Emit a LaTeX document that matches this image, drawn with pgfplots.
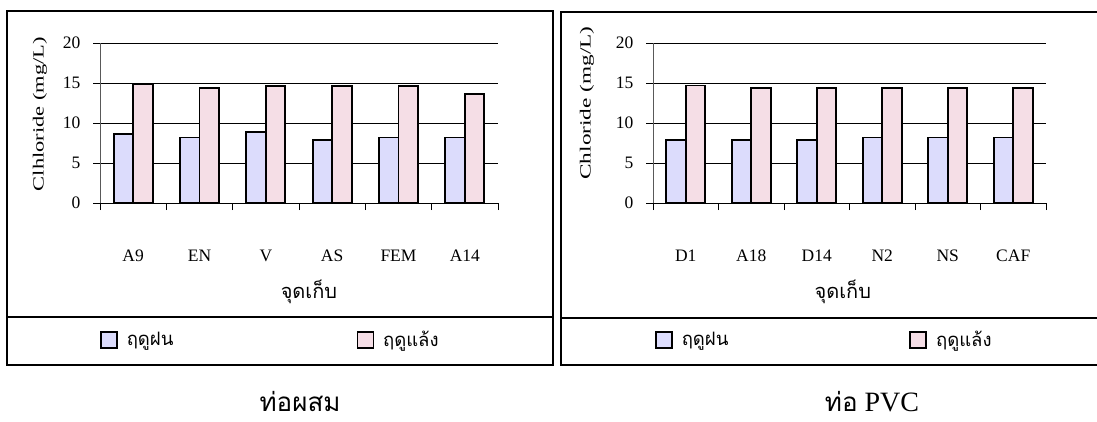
\documentclass[border=0pt]{standalone}
\usepackage{fontspec}
\setmainfont{Liberation Serif}
\newfontfamily\thaifont[Script=Thai]{Loma}
\usepackage{pgfplots}
\pgfplotsset{compat=1.18}
\definecolor{rainy}{RGB}{220,220,252}
\definecolor{dry}{RGB}{245,222,230}
\pgfplotsset{
  chl/.style={
    scale only axis, height=160pt,
    xmin=-0.5, xmax=5.5, ymin=0, ymax=20,
    axis x line=bottom, axis y line=left,
    axis line style={-},
    x axis line style={black, line width=0.9pt},
    y axis line style={black!65, line width=0.9pt},
    ytick={0,5,10,15,20},
    ymajorgrids, grid style={black, line width=0.8pt},
    xtick={-0.5,0.5,1.5,2.5,3.5,4.5,5.5}, xticklabels={},
    tick align=outside, major tick length=7pt,
    tick style={black, line width=0.8pt},
    extra x ticks={0,1,2,3,4,5},
    extra x tick style={major tick length=0pt, xticklabel style={anchor=center, yshift=-53pt}},
    tick label style={font=\fontsize{17.5}{20}\selectfont},
    yticklabel style={xshift=-9pt},
    /pgf/number format/assume math mode=true,
    clip=false,
    legend columns=2,
    legend cell align=left,
  },
  rain/.style={ybar, bar width=19.5pt, bar shift=-9.75pt, fill=rainy, draw=black, line width=1.7pt,
    legend image code/.code={\draw[fill=rainy,draw=black,line width=1.6pt] (0pt,-8pt) rectangle (16pt,8pt);}},
  dryb/.style={ybar, bar width=19.5pt, bar shift=9.75pt, fill=dry, draw=black, line width=1.7pt,
    legend image code/.code={\draw[fill=dry,draw=black,line width=1.6pt] (0pt,-8pt) rectangle (16pt,8pt);}},
}
\begin{document}
\begin{tikzpicture}[x=1pt,y=1pt]
\useasboundingbox (0,0) rectangle (1097,421);
\begin{scope}
\clip (0,0) rectangle (1097,421);
\draw[line width=1.3pt] (7,56) rectangle (553,410);
\draw[line width=1.3pt] (7,104) -- (553,104);
\draw[line width=1.3pt] (561,56) rectangle (1110,409);
\draw[line width=1.3pt] (561,103) -- (1110,103);
\end{scope}

\begin{axis}[chl, width=398pt, at={(100pt,218pt)}, anchor=south west,
  extra x tick labels={A9,EN,V,AS,FEM,A14},
  ylabel={Clhloride (mg/L)},
  ylabel style={at={(axis description cs:-0.1508,0.556)}, anchor=center, rotate=0, xscale=1.45, font=\fontsize{15.5}{18}\selectfont},
  xlabel={\thaifont จุดเก็บ},
  xlabel style={at={(axis description cs:0.525,-0.556)}, anchor=center, font=\fontsize{20}{22}\selectfont},
  legend style={at={(axis description cs:0.0,-0.856)}, anchor=west, draw=none, fill=none, inner sep=0pt,
    font=\thaifont\fontsize{18.5}{20}\selectfont,
    /tikz/every odd column/.append style={column sep=7pt},
    /tikz/every even column/.append style={column sep=181pt}},
]
\addplot[rain] coordinates {(0,8.6) (1,8.2) (2,8.9) (3,7.9) (4,8.2) (5,8.2)};
\addplot[dryb] coordinates {(0,14.8) (1,14.4) (2,14.6) (3,14.6) (4,14.6) (5,13.6)};
\legend{ฤดูฝน,ฤดูแล้ง}
\end{axis}

\begin{axis}[chl, width=393pt, at={(653pt,218pt)}, anchor=south west,
  extra x tick labels={D1,A18,D14,N2,NS,CAF},
  ylabel={Chloride (mg/L)},
  ylabel style={at={(axis description cs:-0.168,0.625)}, anchor=center, rotate=0, xscale=1.5, font=\fontsize{15.5}{18}\selectfont},
  xlabel={\thaifont จุดเก็บ},
  xlabel style={at={(axis description cs:0.483,-0.556)}, anchor=center, font=\fontsize{20}{22}\selectfont},
  legend style={at={(axis description cs:0.005,-0.856)}, anchor=west, draw=none, fill=none, inner sep=0pt,
    font=\thaifont\fontsize{18.5}{20}\selectfont,
    /tikz/every odd column/.append style={column sep=7pt},
    /tikz/every even column/.append style={column sep=179pt}},
]
\addplot[rain] coordinates {(0,7.9) (1,7.9) (2,7.9) (3,8.2) (4,8.2) (5,8.2)};
\addplot[dryb] coordinates {(0,14.7) (1,14.4) (2,14.4) (3,14.4) (4,14.4) (5,14.4)};
\legend{ฤดูฝน,ฤดูแล้ง}
\end{axis}

\node[anchor=base, font=\thaifont\fontsize{26}{30}\selectfont] at (300,10) {ท่อผสม};
\node[anchor=base, font=\fontsize{28}{32}\selectfont] at (872,10) {{\thaifont\fontsize{26}{30}\selectfont ท่อ} PVC};
\end{tikzpicture}
\end{document}
